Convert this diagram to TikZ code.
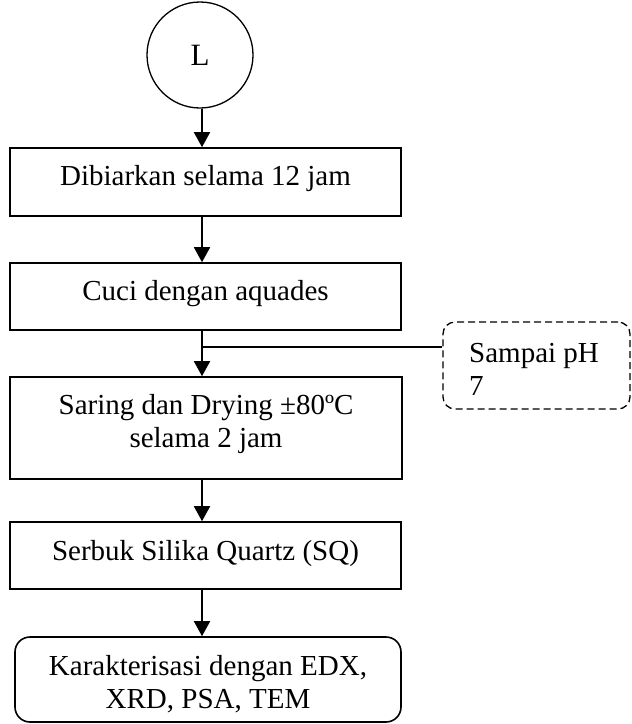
\documentclass[tikz,border=0pt]{standalone}
\usepackage{fontspec}
\setmainfont{Liberation Serif}
\usetikzlibrary{arrows.meta}
\begin{document}
\begin{tikzpicture}[x=1pt,y=-1pt,
  txt/.style={font=\fontsize{29}{33}\selectfont, inner sep=0pt, anchor=base},
  box/.style={draw, line width=1.6pt, inner sep=0pt},
  flow/.style={line width=1.8pt, -{Triangle[width=16pt,length=15pt]}},
  side/.style={line width=1.3pt},
  note/.style={draw, line width=1.3pt, dash pattern=on 7pt off 4pt, rounded corners=12pt, inner sep=0pt}
]
\useasboundingbox (0,0) rectangle (632,724);

% start connector
\node[draw, circle, line width=1.3pt, minimum size=106pt, inner sep=0pt,
      font=\fontsize{31}{33}\selectfont] (c) at (200,55) {L};

% process boxes
\node[box, minimum width=391pt, minimum height=68pt] (b1) at (205.5,182) {};
\node[box, minimum width=391pt, minimum height=67pt] (b2) at (205.5,296.5) {};
\node[box, minimum width=392pt, minimum height=102pt] (b3) at (206,428) {};
\node[box, minimum width=391pt, minimum height=67pt] (b4) at (205.5,555.5) {};
\node[box, rounded corners=15pt, minimum width=386pt, minimum height=85pt] (b5) at (208,679.5) {};

% side note
\node[note, minimum width=187pt, minimum height=87pt] (d) at (536.5,365.5) {};

% texts
\node[txt] at (205.5,185) {Dibiarkan selama 12 jam};
\node[txt] at (205.5,300) {Cuci dengan aquades};
\node[txt] at (206,414) {Saring dan Drying ±80ºC};
\node[txt] at (206,447) {selama 2 jam};
\node[txt] at (205.5,560) {Serbuk Silika Quartz (SQ)};
\node[txt] at (208,675) {Karakterisasi dengan EDX,};
\node[txt] at (208,708) {XRD, PSA, TEM};
\node[txt, anchor=base west] at (469,362) {Sampai pH};
\node[txt, anchor=base west] at (469,395) {7};

% connectors
\coordinate (col) at (202,0);
\draw[flow] (c.south -| col) -- (b1.north -| col);
\draw[flow] (b1.south -| col) -- (b2.north -| col);
\draw[flow] (b2.south -| col) -- (b3.north -| col);
\draw[flow] (b3.south -| col) -- (b4.north -| col);
\draw[flow] (b4.south -| col) -- (b5.north -| col);
\coordinate (j) at (202,347);
\draw[side] (j) -- (j -| d.west);
\end{tikzpicture}
\end{document}
